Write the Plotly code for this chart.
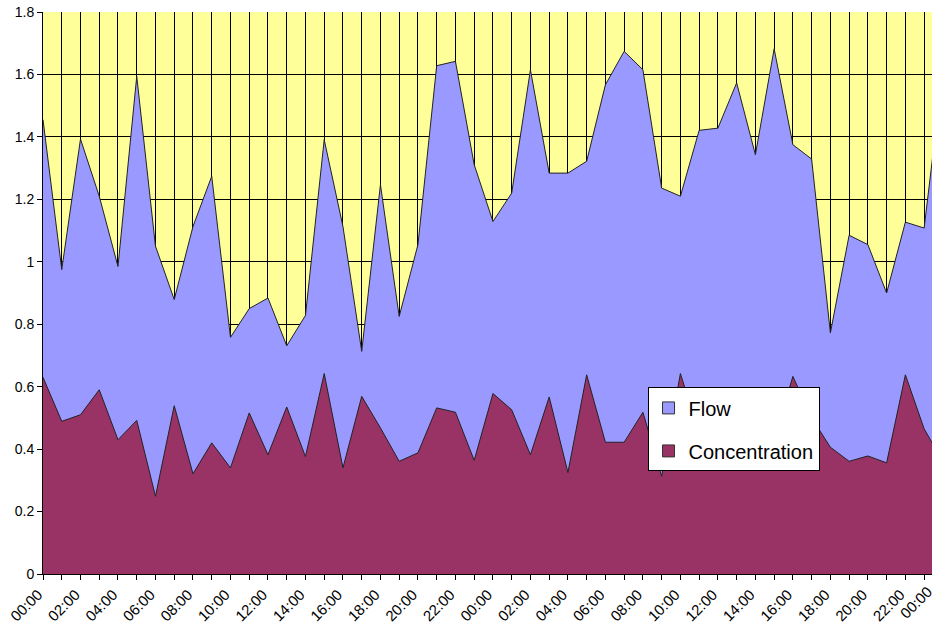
import plotly.graph_objects as go

HOURS = list(range(49))
TICK_TEXT = [f"{h % 24:02d}:00" if h % 2 == 0 else "" for h in HOURS]

# top of the blue area (flow, as plotted)
FLOW = [
    1.455, 0.975, 1.393, 1.21, 0.985, 1.594, 1.05, 0.879, 1.113, 1.274,
    0.758, 0.85, 0.884, 0.731, 0.828, 1.391, 1.113, 0.713, 1.247, 0.825,
    1.055, 1.628, 1.642, 1.311, 1.129, 1.22, 1.615, 1.284, 1.284, 1.322,
    1.567, 1.674, 1.615, 1.236, 1.21, 1.421, 1.428, 1.573, 1.343, 1.682,
    1.375, 1.329, 0.772, 1.085, 1.055, 0.9, 1.127, 1.108, 1.61,
]
CONCENTRATION = [
    0.63, 0.489, 0.51, 0.59, 0.43, 0.492, 0.249, 0.539, 0.321, 0.42,
    0.34, 0.516, 0.382, 0.535, 0.376, 0.642, 0.34, 0.569, 0.468, 0.361,
    0.388, 0.532, 0.518, 0.364, 0.578, 0.526, 0.382, 0.567, 0.325, 0.638,
    0.422, 0.422, 0.518, 0.313, 0.642, 0.45, 0.5, 0.4, 0.47, 0.43,
    0.633, 0.5, 0.406, 0.361, 0.378, 0.356, 0.638, 0.465, 0.36,
]

FLOW_COLOR = "#9999FF"
CONC_COLOR = "#993366"
FONT = "Arial, Liberation Sans, sans-serif"

fig = go.Figure()
fig.add_trace(
    go.Scatter(
        x=HOURS, y=FLOW, mode="lines", fill="tozeroy",
        fillcolor=FLOW_COLOR, line=dict(color="#222222", width=1),
        showlegend=False, hoverinfo="skip",
    )
)
fig.add_trace(
    go.Scatter(
        x=HOURS, y=CONCENTRATION, mode="lines", fill="tozeroy",
        fillcolor=CONC_COLOR, line=dict(color="#222222", width=1),
        showlegend=False, hoverinfo="skip",
    )
)
# legend swatches (square, Excel style)
for name, color in [("Flow", FLOW_COLOR), ("Concentration", CONC_COLOR)]:
    fig.add_trace(
        go.Bar(
            x=[None], y=[None], name=name, legendgroup=name,
            marker=dict(color=color, line=dict(color="#333333", width=1)),
        )
    )

fig.update_layout(
    width=932,
    height=627,
    margin=dict(l=43, r=0, t=12, b=53),
    paper_bgcolor="white",
    plot_bgcolor="#FFFF99",
    font=dict(family=FONT, color="black"),
    legend=dict(
        x=0.68, y=0.332, xanchor="left", yanchor="top",
        bgcolor="white", bordercolor="black", borderwidth=1,
        font=dict(size=20, family=FONT), tracegroupgap=14,
        traceorder="grouped", itemwidth=30,
    ),
)
fig.update_xaxes(
    range=[0, 47.42],
    tickvals=HOURS,
    ticktext=TICK_TEXT,
    tickangle=-45,
    ticks="outside",
    ticklen=5,
    tickcolor="black",
    tickfont=dict(size=15, color="black"),
    ticklabelshift=-5,
    showgrid=True,
    gridcolor="black",
    gridwidth=1,
    showline=True,
    linecolor="black",
    zeroline=False,
    automargin=False,
)
fig.update_yaxes(
    range=[0, 1.8],
    dtick=0.2,
    ticks="outside",
    ticklen=5,
    tickcolor="black",
    tickfont=dict(size=14, color="black"),
    showgrid=True,
    gridcolor="black",
    gridwidth=1,
    showline=True,
    linecolor="black",
    zeroline=False,
    automargin=False,
)
# the last midnight label sits just past the right edge and is cut off
fig.add_annotation(
    x=48 / 47.42, y=0, xref="paper", yref="paper",
    text=TICK_TEXT[48], textangle=-45, showarrow=False,
    xanchor="right", yanchor="top", yshift=-6, xshift=-5,
    font=dict(size=15, family=FONT, color="black"),
)

# drop the default page margin so the figure sits at the window's corner
fig.write_html(
    "out.html",
    config={"displayModeBar": False},
    post_script="document.body.style.margin='0';document.body.style.overflow='hidden';",
)
